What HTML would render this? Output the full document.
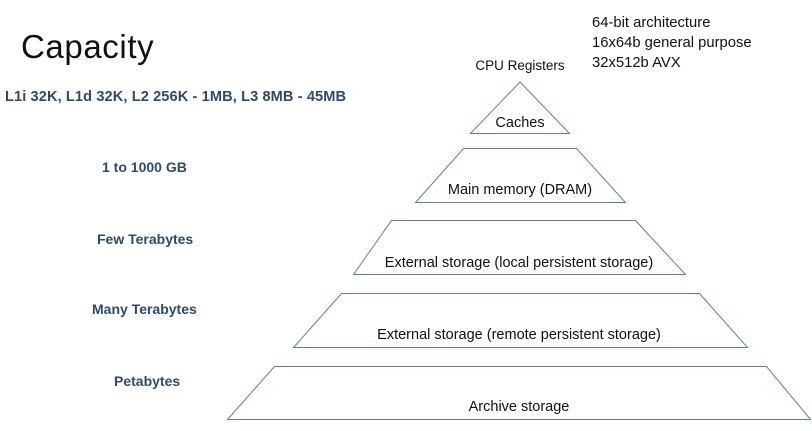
<!DOCTYPE html>
<html><head><meta charset="utf-8"><style>
body{margin:0;width:812px;height:431px;background:#fff;overflow:hidden;position:relative;font-family:"Liberation Sans",sans-serif}
.t{position:absolute;white-space:nowrap}
.b{color:#2e4a72;font-weight:bold;font-size:14px}
</style></head><body>
<svg width="812" height="431" style="position:absolute;left:0;top:0" fill="none" stroke="#5b7fb5" stroke-width="1">
<polygon points="520,82 569.5,133.5 470.5,133.5"/>
<polygon points="463.5,148.5 576.5,148.5 625.5,202.5 415.5,202.5"/>
<polygon points="391.5,220.5 635.5,220.5 685.5,274.5 353.5,274.5"/>
<polygon points="341.5,293.5 699.5,293.5 747.5,347.5 293.5,347.5"/>
<polygon points="274.5,366.5 766.5,366.5 810.5,419.5 227.5,419.5"/>
<g fill="#111" stroke="none" font-family="Liberation Sans, sans-serif" font-size="14.5" text-anchor="middle">
<text x="520" y="127">Caches</text>
<text x="520" y="194">Main memory (DRAM)</text>
<text x="519" y="267">External storage (local persistent storage)</text>
<text x="519" y="339">External storage (remote persistent storage)</text>
<text x="519" y="411">Archive storage</text>
<text x="520" y="70" font-size="13.5">CPU Registers</text>
</g>
<g fill="#111" stroke="none" font-family="Liberation Sans, sans-serif" font-size="14.8">
<text x="592" y="27">64-bit architecture</text>
<text x="592" y="47">16x64b general purpose</text>
<text x="592" y="67">32x512b AVX</text>
</g>
</svg>
<div class="t" style="left:21px;top:28px;font-size:33px;letter-spacing:0.6px;color:#111">Capacity</div>
<div class="t b" style="left:5px;top:89px;font-size:14.6px;letter-spacing:0.1px">L1i 32K, L1d 32K, L2 256K - 1MB, L3 8MB - 45MB</div>
<div class="t b" style="left:102px;top:159px">1 to 1000 GB</div>
<div class="t b" style="left:97px;top:231px">Few Terabytes</div>
<div class="t b" style="left:92px;top:301px">Many Terabytes</div>
<div class="t b" style="left:114px;top:373px">Petabytes</div>
</body></html>
